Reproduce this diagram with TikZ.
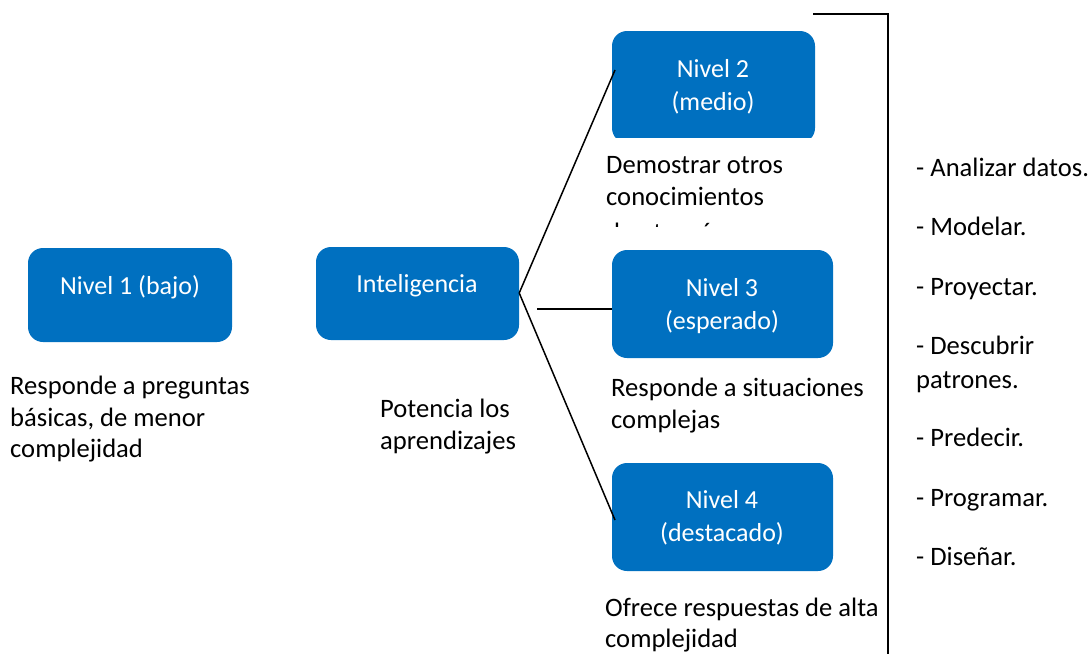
\documentclass[tikz,border=0pt]{standalone}
\usepackage{fontspec}
\setmainfont{Carlito}
\definecolor{boxblue}{HTML}{0070C0}
\begin{document}
\begin{tikzpicture}[x=1pt,y=-1pt,
  bluebox/.style={draw=none,fill=boxblue,rounded corners=15pt,inner sep=0pt},
  boxtext/.style={text=white,font=\fontsize{26}{33}\selectfont,inner sep=0pt,anchor=base},
  caption/.style={text=black,font=\fontsize{26.6}{32}\selectfont,inner sep=0pt,anchor=base west},
  link/.style={draw=black,line width=1.5pt}]
\useasboundingbox (0,0) rectangle (1091,654);
\fill[white] (0,0) rectangle (1091,654);

% boxes
\node[bluebox,minimum width=204pt,minimum height=94pt] (n1) at (130,295) {};
\node[bluebox,minimum width=203pt,minimum height=93pt] (intel) at (417.5,293.5) {};
\begin{scope}
\clip (600,20) rectangle (830,137);
\node[bluebox,minimum width=203pt,minimum height=112pt] (n2) at (713.5,87) {};
\end{scope}
\node[bluebox,minimum width=221pt,minimum height=108pt] (n3) at (722.5,304) {};
\node[bluebox,minimum width=221pt,minimum height=108pt] (n4) at (722.5,517) {};

% box texts
\node[boxtext] (t1) at (130,294) {Nivel 1 (bajo)};
\node[boxtext] (ti) at (417,292) {Inteligencia};
\node[boxtext] (t2a) at (713,77) {Nivel 2};
\node[boxtext] (t2b) at (713,110) {(medio)};
\node[boxtext] (t3a) at (722,296) {Nivel 3};
\node[boxtext] (t3b) at (722,329) {(esperado)};
\node[boxtext] (t4a) at (722,508) {Nivel 4};
\node[boxtext] (t4b) at (722,541) {(destacado)};

% captions
\node[caption] (c1a) at (10,394) {Responde a preguntas};
\node[caption] (c1b) at (10,426) {básicas, de menor};
\node[caption] (c1c) at (10,457) {complejidad};
\node[caption] (cia) at (380,417) {Potencia los};
\node[caption] (cib) at (380,449) {aprendizajes};
\node[caption] (c2a) at (606,173) {Demostrar otros};
\node[caption] (c2b) at (606,205) {conocimientos};
\begin{scope}
\clip (600,214) rectangle (800,226);
\node[caption] (c2c) at (606,241) {de otras áreas};
\end{scope}
\node[caption] (c3a) at (611,396) {Responde a situaciones};
\node[caption] (c3b) at (611,428) {complejas};
\node[caption] (c4a) at (605,616) {Ofrece respuestas de alta};
\node[caption] (c4b) at (605,647) {complejidad};

% list
\node[caption] (l1) at (916,176) {- Analizar datos.};
\node[caption] (l2) at (916,235) {- Modelar.};
\node[caption] (l3) at (916,295) {- Proyectar.};
\node[caption] (l4a) at (916,354) {- Descubrir};
\node[caption] (l4b) at (916,388) {patrones.};
\node[caption] (l5) at (916,446) {- Predecir.};
\node[caption] (l6) at (916,506) {- Programar.};
\node[caption] (l7) at (916,565) {- Diseñar.};

% connectors
\coordinate (hub) at (intel.east |- 0,293);
\coordinate (e2) at (615,70);
\coordinate (e4) at (615,520);
\coordinate (h0) at (537,309);
\draw[link] (hub) -- (e2);
\draw[link] (hub) -- (e4);
\draw[link] (h0) -- (n3.west |- h0);

% bracket
\coordinate (bt) at (813,14);
\coordinate (bb) at (888,654);
\draw[draw=black,line width=2pt] (bt) -| (bb);
\end{tikzpicture}
\end{document}
